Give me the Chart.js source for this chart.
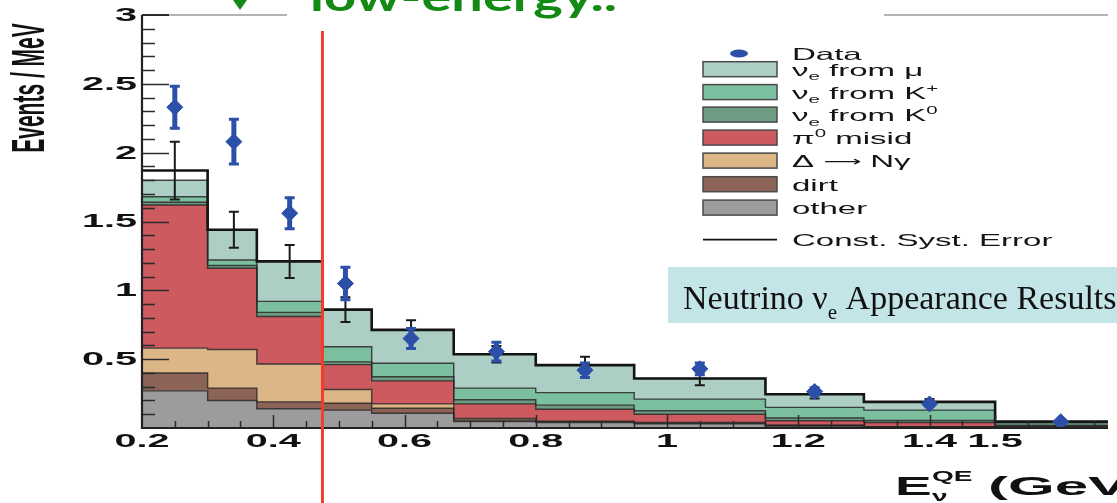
<!DOCTYPE html>
<html>
<head>
<meta charset="utf-8">
<script src="https://cdn.jsdelivr.net/npm/chart.js@4"></script>
<style>
  html, body { margin: 0; padding: 0; background: #ffffff; }
  #wrap { width: 1117px; height: 503px; position: relative; }
</style>
</head>
<body>
<div id="wrap"><canvas id="c" width="1117" height="503"></canvas></div>
<script>
// Reconstructed-energy bin edges (GeV); the last bin runs out past the axis break.
const binEdges = [0.2, 0.3, 0.375, 0.475, 0.55, 0.675, 0.8, 0.95, 1.15, 1.3, 1.5, 3.0];

// Predicted backgrounds per bin, events / MeV (stacked bottom to top).
const otherBkg = [0.27, 0.20, 0.14, 0.13, 0.107, 0.046, 0.040, 0.030, 0.015, 0.008, 0.004];
const dirtBkg  = [0.13, 0.09, 0.05, 0.05, 0.036, 0.012, 0.005, 0.005, 0.003, 0.001, 0.001];
const deltaBkg = [0.18, 0.28, 0.275, 0.10, 0.032, 0.012, 0.005, 0.005, 0.002, 0.001, 0.001];
const pi0Bkg   = [1.04, 0.59, 0.345, 0.18, 0.167, 0.105, 0.086, 0.060, 0.033, 0.030, 0.008];
const nueK0    = [0.02, 0.02, 0.03, 0.02, 0.030, 0.030, 0.030, 0.025, 0.020, 0.015, 0.006];
const nueKplus = [0.04, 0.04, 0.08, 0.11, 0.098, 0.085, 0.091, 0.085, 0.077, 0.075, 0.018];
const nueMu    = [0.12, 0.22, 0.29, 0.27, 0.243, 0.246, 0.200, 0.150, 0.095, 0.060, 0.008];

// Total prediction outline and its constrained systematic error.
const totalPred = [1.87, 1.44, 1.21, 0.86, 0.713, 0.536, 0.457, 0.36, 0.245, 0.19, 0.046];
const predErr   = [0.21, 0.13, 0.12, 0.09, 0.07, 0.06, 0.06, 0.05, 0.03, 0.02, 0.01];

// Observed data points.
const dataE   = [0.25, 0.34, 0.425, 0.51, 0.61, 0.74, 0.875, 1.05, 1.225, 1.4, 2.0];
const dataY   = [2.33, 2.08, 1.56, 1.05, 0.65, 0.555, 0.42, 0.43, 0.265, 0.175, 0.046];
const dataErr = [0.16, 0.17, 0.12, 0.125, 0.08, 0.075, 0.06, 0.05, 0.035, 0.025, 0.02];

// Axis ticks and labels.
const yTickValues = [0.5, 1, 1.5, 2, 2.5, 3];
const yTickLabels = ['0.5', '1', '1.5', '2', '2.5', '3'];
const xTickValues = [0.2, 0.4, 0.6, 0.8, 1.0, 1.2, 1.4, 1.5];
const xTickLabels = ['0.2', '0.4', '0.6', '0.8', '1', '1.2', '1.4', '1.5'];
const xOuterTicks = [1.75, 2.0, 2.25];

// Analysis threshold marker (GeV).
const cutEnergy = 0.475;

// Broken energy axis: linear up to 1.5 GeV, compressed by 5x above.
const breakAt = 1.5;
const squeeze = 0.2;
const axisEnergyMax = 2.36;
const T = e => (e <= breakAt ? e : breakAt + (e - breakAt) * squeeze);

// Component names and fill colours, bottom to top.
const stackNames = ['other', 'dirt', 'delta', 'pi0', 'nueK0', 'nueKplus', 'nueMu'];
const stackSeries = [otherBkg, dirtBkg, deltaBkg, pi0Bkg, nueK0, nueKplus, nueMu];
const stackColors = ['#9c9c9c', '#8b6457', '#ddb687', '#cc5a5f', '#6e9c83', '#7cbf9e', '#adcec5'];

const dataBlue = '#2c50a8';

// One point per left bin edge plus the closing right edge (held flat, then stepped).
function stepPoints(values) {
  const pts = values.map((v, i) => ({ x: T(binEdges[i]), y: v }));
  pts.push({ x: T(binEdges[binEdges.length - 1]), y: values[values.length - 1] });
  return pts;
}

// Cumulative stack tops.
const cumulative = [];
stackSeries.forEach((s, k) => {
  cumulative.push(s.map((v, i) => v + (k > 0 ? cumulative[k - 1][i] : 0)));
});

const stackDatasets = stackSeries.map((s, k) => ({
  label: stackNames[k],
  data: stepPoints(cumulative[k]),
  stepped: 'before',
  fill: k === 0 ? 'origin' : '-1',
  backgroundColor: stackColors[k],
  borderColor: 'rgba(40,40,40,0.85)',
  borderWidth: 1.4,
  pointRadius: 0,
  order: 10
}));

// ---- text helpers ----
function stretchedText(ctx, str, x, y, font, sx, align, baseline, color) {
  ctx.save();
  ctx.translate(x, y);
  ctx.scale(sx, 1);
  ctx.font = font;
  ctx.fillStyle = color || '#111';
  ctx.textAlign = align;
  ctx.textBaseline = baseline;
  ctx.fillText(str, 0, 0);
  ctx.restore();
}

// Text runs: 'n' normal, 'sub' subscript, 'sup' superscript, 'sm' slightly reduced.
function richText(ctx, parts, x, y, size, family, weight, sx, color) {
  ctx.save();
  ctx.translate(x, y);
  ctx.scale(sx, 1);
  ctx.textAlign = 'left';
  ctx.textBaseline = 'alphabetic';
  ctx.fillStyle = color || '#111';
  let cx = 0;
  for (const [t, kind] of parts) {
    const s = kind === 'n' ? size : kind === 'sm' ? size * 0.8 : size * 0.62;
    ctx.font = `${weight} ${s}px ${family}`;
    const dy = kind === 'sub' ? size * 0.28 : kind === 'sup' ? -size * 0.42 : kind === 'sm' ? -size * 0.08 : 0;
    ctx.fillText(t, cx, dy);
    cx += ctx.measureText(t).width;
  }
  ctx.restore();
}

const legendLabels = [
  [['Data', 'n']],
  [['ν', 'n'], ['e', 'sub'], [' from μ', 'n']],
  [['ν', 'n'], ['e', 'sub'], [' from K', 'n'], ['+', 'sup']],
  [['ν', 'n'], ['e', 'sub'], [' from K', 'n'], ['0', 'sup']],
  [['π', 'n'], ['0', 'sup'], [' misid', 'n']],
  [['Δ ', 'n'], ['⟶', 'sm'], [' Nγ', 'n']],
  [['dirt', 'n']],
  [['other', 'n']],
  [['Const. Syst. Error', 'n']]
];
const legendFills = [null, '#adcec5', '#7cbf9e', '#6e9c83', '#cc5a5f', '#ddb687', '#8b6457', '#9c9c9c', null];

const SANS = "'Liberation Sans', Arial, 'DejaVu Sans', sans-serif";
const SERIF = "'Liberation Serif', 'Times New Roman', serif";

const decorPlugin = {
  id: 'decor',
  beforeDatasetDraw(chart, args) {
    if (args.index !== 0) return;
    const ctx = chart.ctx;
    const xs = chart.scales.x, ys = chart.scales.y;
    const area = chart.chartArea;
    ctx.save();
    // Inward ticks on the y axis
    ctx.strokeStyle = '#2a2a2a';
    ctx.lineWidth = 1.5;
    for (let i = 1; i < 30; i++) {
      const v = i / 10;
      const py = Math.round(ys.getPixelForValue(v)) + 0.5;
      const len = (i % 5 === 0) ? 27 : 13;
      ctx.beginPath();
      ctx.moveTo(area.left, py);
      ctx.lineTo(area.left + len, py);
      ctx.stroke();
    }
    // Inward ticks on the energy axis
    for (let i = 5; i <= 30; i++) {
      const e = i / 20;
      const px = Math.round(xs.getPixelForValue(T(e))) + 0.5;
      const major = (i % 4 === 0) || i === 30;
      ctx.beginPath();
      ctx.moveTo(px, area.bottom);
      ctx.lineTo(px, area.bottom - (major ? 13 : 7));
      ctx.stroke();
    }
    xOuterTicks.forEach(e => {
      const px = Math.round(xs.getPixelForValue(T(e))) + 0.5;
      ctx.beginPath();
      ctx.moveTo(px, area.bottom);
      ctx.lineTo(px, area.bottom - 7);
      ctx.stroke();
    });

    // Prediction systematic error bars
    ctx.strokeStyle = '#1a1a1a';
    ctx.lineWidth = 2;
    dataE.forEach((e, i) => {
      const px = xs.getPixelForValue(T(e));
      const y1 = ys.getPixelForValue(totalPred[i] + predErr[i]);
      const y2 = ys.getPixelForValue(totalPred[i] - predErr[i]);
      ctx.beginPath();
      ctx.moveTo(px, y1); ctx.lineTo(px, y2);
      ctx.moveTo(px - 5, y1); ctx.lineTo(px + 5, y1);
      ctx.moveTo(px - 5, y2); ctx.lineTo(px + 5, y2);
      ctx.stroke();
    });
    // Data error bars
    ctx.strokeStyle = dataBlue;
    dataE.forEach((e, i) => {
      const px = xs.getPixelForValue(T(e));
      const y1 = ys.getPixelForValue(dataY[i] + dataErr[i]);
      const y2 = ys.getPixelForValue(dataY[i] - dataErr[i]);
      ctx.lineWidth = 5;
      ctx.beginPath();
      ctx.moveTo(px, y1); ctx.lineTo(px, y2);
      ctx.stroke();
      ctx.lineWidth = 3;
      ctx.beginPath();
      ctx.moveTo(px - 5, y1 + 1); ctx.lineTo(px + 5, y1 + 1);
      ctx.moveTo(px - 5, y2 - 1); ctx.lineTo(px + 5, y2 - 1);
      ctx.stroke();
    });
    ctx.restore();
  },
  afterDraw(chart) {
    const ctx = chart.ctx;
    const xs = chart.scales.x, ys = chart.scales.y;
    const area = chart.chartArea;
    ctx.save();

    // Frame: light top rule (interrupted by the slide heading), dark axes
    ctx.strokeStyle = '#b3b3b3';
    ctx.lineWidth = 2;
    ctx.beginPath();
    ctx.moveTo(area.left, area.top); ctx.lineTo(287, area.top);
    ctx.moveTo(884, area.top); ctx.lineTo(area.right, area.top);
    ctx.stroke();
    ctx.strokeStyle = '#2a2a2a';
    ctx.beginPath();
    ctx.moveTo(area.left, area.top); ctx.lineTo(area.left + 27, area.top);
    ctx.stroke();
    ctx.lineWidth = 2.2;
    ctx.strokeStyle = '#222';
    ctx.beginPath();
    ctx.moveTo(area.left, area.top);
    ctx.lineTo(area.left, area.bottom);
    ctx.lineTo(area.right, area.bottom);
    ctx.stroke();

    // Tick labels
    const tickFont = `bold 18px ${SANS}`;
    yTickValues.forEach((v, i) => {
      stretchedText(ctx, yTickLabels[i], 137, ys.getPixelForValue(v) + 1, tickFont, 2.2, 'right', 'middle', '#111');
    });
    xTickValues.forEach((v, i) => {
      stretchedText(ctx, xTickLabels[i], xs.getPixelForValue(T(v)), 442, tickFont, 2.2, 'center', 'middle', '#111');
    });

    // Axis titles
    ctx.save();
    ctx.translate(31, 88);
    ctx.scale(2.2, 1);
    ctx.rotate(-Math.PI / 2);
    ctx.font = `bold 21px ${SANS}`;
    ctx.fillStyle = '#111';
    ctx.textAlign = 'center';
    ctx.textBaseline = 'middle';
    ctx.fillText('Events / MeV', 0, 0);
    ctx.restore();

    stretchedText(ctx, 'E', 895, 495, `bold 25px ${SANS}`, 2.2, 'left', 'alphabetic', '#111');
    stretchedText(ctx, 'QE', 932, 481, `bold 14px ${SANS}`, 2.0, 'left', 'alphabetic', '#111');
    stretchedText(ctx, 'ν', 932, 501, `bold 14px ${SANS}`, 2.0, 'left', 'alphabetic', '#111');
    stretchedText(ctx, '(GeV)', 988, 495, `bold 25px ${SANS}`, 2.4, 'left', 'alphabetic', '#111');

    // Legend
    const rowY = [53.5, 69.2, 92.1, 114.6, 137.6, 160.6, 184.2, 207.6, 239.6];
    const boxL = 703, boxW = 74, boxH = 15, textX = 792;
    rowY.forEach((cy, i) => {
      if (i === 0) {
        ctx.fillStyle = dataBlue;
        ctx.beginPath();
        ctx.ellipse(739, cy, 9, 4, 0, 0, Math.PI * 2);
        ctx.fill();
      } else if (legendFills[i]) {
        ctx.fillStyle = legendFills[i];
        ctx.fillRect(boxL, cy - boxH / 2, boxW, boxH);
        ctx.strokeStyle = '#4a4a4a';
        ctx.lineWidth = 1.5;
        ctx.strokeRect(boxL, cy - boxH / 2, boxW, boxH);
      } else {
        ctx.strokeStyle = '#111';
        ctx.lineWidth = 1.6;
        ctx.beginPath();
        ctx.moveTo(boxL, cy); ctx.lineTo(boxL + boxW, cy);
        ctx.stroke();
      }
      richText(ctx, legendLabels[i], textX, cy + 6.5, 16.5, SANS, 'normal', 2.0, '#151515');
    });

    // Result banner
    ctx.fillStyle = '#c4e5e8';
    ctx.fillRect(668, 267, 1117 - 668, 56);
    richText(ctx, [['Neutrino ν', 'n'], ['e', 'sub'], [' Appearance Results', 'n']], 683, 309, 34, SERIF, 'normal', 1.0, '#111');

    // Threshold line
    const cx = xs.getPixelForValue(T(cutEnergy));
    ctx.strokeStyle = '#ef3f2c';
    ctx.lineWidth = 3;
    ctx.beginPath();
    ctx.moveTo(cx, 31);
    ctx.lineTo(cx, chart.height);
    ctx.stroke();

    // Slide heading fragment above the plot
    ctx.fillStyle = '#138a13';
    ctx.beginPath();
    ctx.moveTo(233, 0); ctx.lineTo(247, 0); ctx.lineTo(240, 10);
    ctx.closePath();
    ctx.fill();
    const headFont = `bold 40px Lato, 'Open Sans', sans-serif`;
    ctx.font = headFont;
    const w = ctx.measureText('low-energy..').width;
    stretchedText(ctx, 'low-energy..', 310, 11, headFont, 307 / w, 'left', 'alphabetic', '#138a13');

    ctx.restore();
  }
};

new Chart(document.getElementById('c'), {
  type: 'line',
  data: {
    datasets: [
      {
        label: 'Data',
        data: dataE.map((e, i) => ({ x: T(e), y: dataY[i] })),
        showLine: false,
        pointStyle: 'rectRot',
        pointRadius: 8,
        pointBackgroundColor: dataBlue,
        pointBorderColor: dataBlue,
        pointBorderWidth: 1,
        order: 0
      },
      {
        label: 'Const. Syst. Error',
        data: stepPoints(totalPred),
        stepped: 'before',
        fill: false,
        borderColor: '#151515',
        borderWidth: 2.6,
        pointRadius: 0,
        order: 1
      },
      ...stackDatasets
    ]
  },
  options: {
    responsive: false,
    devicePixelRatio: 1,
    animation: false,
    events: [],
    layout: { padding: { left: 142, right: 0, top: 15, bottom: 75 } },
    scales: {
      x: { type: 'linear', min: 0.2, max: T(axisEnergyMax), display: false },
      y: { type: 'linear', min: 0, max: 3, display: false }
    },
    plugins: {
      legend: { display: false },
      tooltip: { enabled: false },
      filler: { drawTime: 'beforeDatasetsDraw' }
    }
  },
  plugins: [decorPlugin]
});
</script>
</body>
</html>
